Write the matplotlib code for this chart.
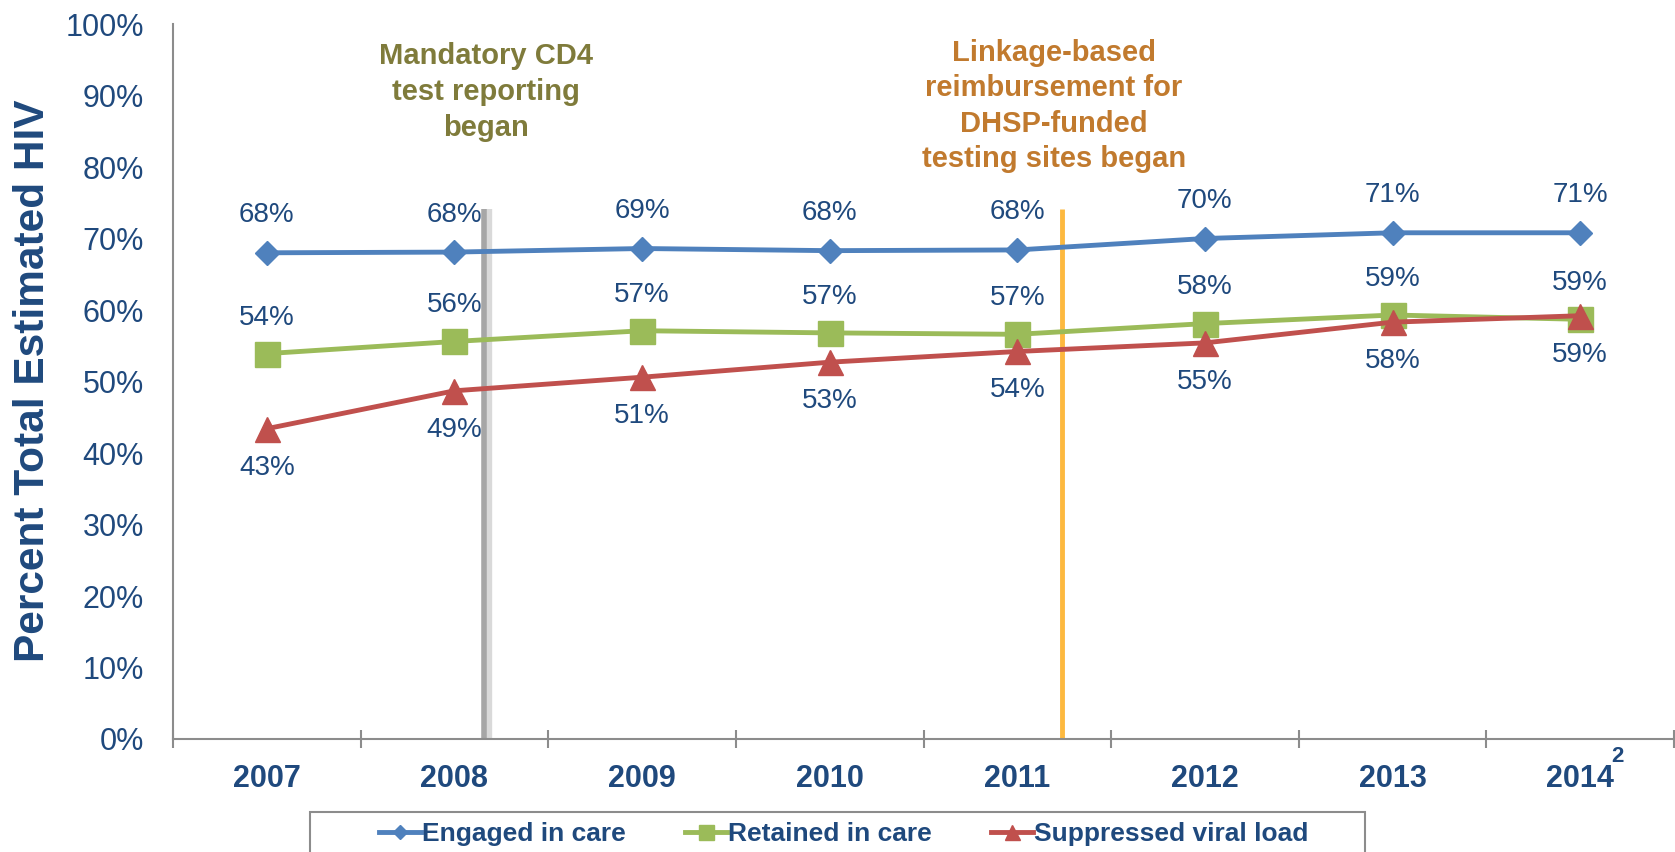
import matplotlib
matplotlib.use("Agg")
import matplotlib.pyplot as plt
from matplotlib.patches import Rectangle
from matplotlib.ticker import FixedLocator, FuncFormatter

# ---------------- data ----------------
years = ["2007", "2008", "2009", "2010", "2011", "2012", "2013", "2014"]
engaged = [68.0, 68.1, 68.6, 68.3, 68.4, 70.0, 70.8, 70.8]
retained = [53.9, 55.6, 57.1, 56.8, 56.6, 58.1, 59.3, 58.7]
suppressed = [43.4, 48.7, 50.6, 52.7, 54.2, 55.4, 58.3, 59.2]
series_names = ["Engaged in care", "Retained in care", "Suppressed viral load"]
y_ticks = [0, 10, 20, 30, 40, 50, 60, 70, 80, 90, 100]
event_cd4_x = 1.16      # position between 2008 and 2009 (category index units)
event_link_x = 4.24     # position between 2011 and 2012
event_top = 74.1
event_cd4_text = "Mandatory CD4\ntest reporting\nbegan"
event_link_text = "Linkage-based\nreimbursement for\nDHSP-funded\ntesting sites began"
footnote = "2"

# ---------------- style ----------------
FONT = "Liberation Sans"
NAVY = "#1F497D"
BLUE = "#4F81BD"
GREEN = "#9BBB59"
RED = "#C0504D"
AXGRAY = "#8C8C8C"

plt.rcParams["font.family"] = [FONT, "DejaVu Sans"]

W, H = 1675, 852
fig = plt.figure(figsize=(W / 100, H / 100), dpi=100)
ax = fig.add_axes([173 / W, 1 - 739 / H, (1674 - 173) / W, (739 - 24) / H])

x = list(range(len(years)))
ax.set_xlim(-0.5, len(years) - 0.5)
ax.set_ylim(0, 100)

# event lines
ax.plot([event_cd4_x + 0.02, event_cd4_x + 0.02], [0, event_top], color="#D9D9D9",
        lw=6, solid_capstyle="butt", zorder=1)
ax.plot([event_cd4_x, event_cd4_x], [0, event_top], color="#A6A6A6",
        lw=4, solid_capstyle="butt", zorder=1)
ax.plot([event_link_x, event_link_x], [0, event_top], color="#FDB93F",
        lw=3.5, solid_capstyle="butt", zorder=1)

# series
l1, = ax.plot(x, engaged, color=BLUE, lw=3.5, marker="D", ms=12.5,
              label=series_names[0], zorder=3)
l2, = ax.plot(x, retained, color=GREEN, lw=3.5, marker="s", ms=18,
              label=series_names[1], zorder=4)
l3, = ax.plot(x, suppressed, color=RED, lw=3.5, marker="^", ms=18,
              label=series_names[2], zorder=5)

# data labels
LBL = 20
for xi, v in zip(x, engaged):
    ax.annotate(f"{round(v)}%", (xi, v), xytext=(0, 27), textcoords="offset points",
                ha="center", va="center", fontsize=LBL, color=NAVY, zorder=6)
for xi, v in zip(x, retained):
    ax.annotate(f"{round(v)}%", (xi, v), xytext=(0, 26), textcoords="offset points",
                ha="center", va="center", fontsize=LBL, color=NAVY, zorder=6)
for xi, v in zip(x, suppressed):
    ax.annotate(f"{round(v)}%", (xi, v), xytext=(0, -28), textcoords="offset points",
                ha="center", va="center", fontsize=LBL, color=NAVY, zorder=6)

# axes styling
for s in ["top", "right"]:
    ax.spines[s].set_visible(False)
for s in ["left", "bottom"]:
    ax.spines[s].set_color(AXGRAY)
    ax.spines[s].set_linewidth(1.5)

ax.yaxis.set_major_locator(FixedLocator(y_ticks))
ax.yaxis.set_major_formatter(FuncFormatter(lambda v, p: f"{v:.0f}%"))
ax.tick_params(axis="y", length=0, pad=21, labelsize=22, labelcolor=NAVY)

ax.xaxis.set_major_locator(FixedLocator([i - 0.5 for i in range(len(years) + 1)]))
ax.xaxis.set_major_formatter(FuncFormatter(lambda v, p: ""))
ax.xaxis.set_minor_locator(FixedLocator(x))
ax.set_xticks(x, years, minor=True)
ax.tick_params(axis="x", which="major", direction="inout", length=13, width=1.5,
               color=AXGRAY)
ax.tick_params(axis="x", which="minor", length=0, pad=18, labelsize=22,
               labelcolor=NAVY)
for t in ax.get_xticklabels(minor=True):
    t.set_fontweight("bold")

# y label
fig.text(33 / W, 1 - 381 / H, "Percent Total Estimated HIV", rotation=90,
         ha="center", va="center", fontsize=30.5, fontweight="bold", color=NAVY)

# event annotations
fig.text(486 / W, 1 - 92 / H, event_cd4_text, ha="center", va="center",
         multialignment="center", fontsize=21, fontweight="bold",
         color="#7F7B3B", linespacing=1.36)
fig.text(1054 / W, 1 - 106 / H, event_link_text, ha="center", va="center",
         multialignment="center", fontsize=21, fontweight="bold",
         color="#C17A2E", linespacing=1.34)

# footnote marker
fig.text(1617 / W, 1 - 757 / H, footnote, ha="center", va="center",
         fontsize=16, fontweight="bold", color=NAVY)

# legend
fig.patches.append(Rectangle((310 / W, -0.05), (1365 - 310) / W, 0.05 + 1 - 812 / H,
                             transform=fig.transFigure, fill=False,
                             edgecolor=AXGRAY, lw=1.5, zorder=0))
leg = fig.legend(handles=[l1, l2, l3], loc="center left",
                 bbox_to_anchor=(379 / W, 1 - 834 / H), ncol=3, frameon=False,
                 borderpad=0, borderaxespad=0, handlelength=1.6,
                 handletextpad=0.02, columnspacing=2.25, markerscale=0.6,
                 prop={"family": FONT, "weight": "bold", "size": 19})
for t in leg.get_texts():
    t.set_color(NAVY)

fig.savefig("out.png", dpi=100)
